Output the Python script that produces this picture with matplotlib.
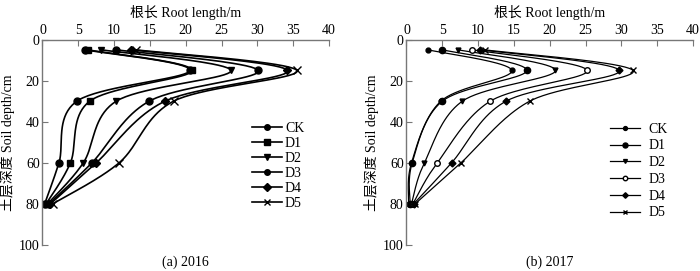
import numpy as np
import matplotlib
matplotlib.use('Agg')
import matplotlib.pyplot as plt

plt.rcParams['font.family'] = ['Liberation Serif', 'Noto Sans CJK SC']
plt.rcParams['font.size'] = 10

depth = [5, 15, 30, 60, 80]
labels = ['CK', 'D1', 'D2', 'D3', 'D4', 'D5']

# root length (m) per treatment at each depth
y2016_ck = [5.9, 20.6, 4.8, 2.3, 0.3]
y2016_d1 = [6.3, 20.9, 6.6, 3.9, 0.5]
y2016_d2 = [8.2, 26.3, 10.3, 5.7, 0.7]
y2016_d3 = [10.3, 30.1, 14.9, 6.9, 0.9]
y2016_d4 = [12.4, 34.2, 17.1, 7.5, 1.1]
y2016_d5 = [13.0, 35.5, 18.3, 10.7, 1.4]

y2017_ck = [3.0, 14.7, 4.8, 0.7, 0.3]
y2017_d1 = [5.0, 16.8, 5.0, 0.8, 0.5]
y2017_d2 = [7.2, 20.8, 7.8, 2.5, 0.7]
y2017_d3 = [9.2, 25.2, 11.7, 4.3, 0.9]
y2017_d4 = [10.3, 29.7, 13.9, 6.3, 1.0]
y2017_d5 = [10.9, 31.6, 17.2, 7.6, 1.2]

data2016 = [y2016_ck, y2016_d1, y2016_d2, y2016_d3, y2016_d4, y2016_d5]
data2017 = [y2017_ck, y2017_d1, y2017_d2, y2017_d3, y2017_d4, y2017_d5]


def smooth(x, y, sx=7.17, sy=2.05, n=40):
    # cardinal (excel-like) bezier smoothing done in pixel space
    P = np.column_stack([np.asarray(x, float) * sx, np.asarray(y, float) * sy])
    out = []
    for i in range(len(P) - 1):
        p0 = P[max(i - 1, 0)]
        p1 = P[i]
        p2 = P[i + 1]
        p3 = P[min(i + 2, len(P) - 1)]
        c1 = p1 + (p2 - p0) / 6
        c2 = p2 - (p3 - p1) / 6
        t = np.linspace(0, 1, n)[:, None]
        seg = (1 - t) ** 3 * p1 + 3 * (1 - t) ** 2 * t * c1 + 3 * (1 - t) * t ** 2 * c2 + t ** 3 * p2
        out.append(seg if i == 0 else seg[1:])
    seg = np.vstack(out)
    return seg[:, 0] / sx, seg[:, 1] / sy


def panel(ax, data, markers, ms, faces, lw, caption, leg_anchor, leg_space, tpad):
    for vals, lab, m, s, fc in zip(data, labels, markers, ms, faces):
        sx, sy = smooth(vals, depth)
        ax.plot(sx, sy, color='black', lw=lw)
        ax.plot(vals, depth, linestyle='none', marker=m, ms=s, color='black',
                mfc=fc, mew=1.0)
        ax.plot([], [], color='black', lw=lw, marker=m, ms=s * 0.8, mfc=fc, label=lab)
    ax.set_xlim(0, 40)
    ax.set_ylim(100, 0)
    ax.set_xticks(range(0, 41, 5))
    ax.set_yticks(range(0, 101, 20))
    ax.xaxis.tick_top()
    ax.xaxis.set_label_position('top')
    ax.set_xlabel('根长 Root length/m', labelpad=5)
    ax.set_ylabel('土层深度 Soil depth/cm', labelpad=3)
    for s in ['right', 'bottom']:
        ax.spines[s].set_visible(False)
    for s in ['left', 'top']:
        ax.spines[s].set_color('#777777')
        ax.spines[s].set_linewidth(1.0)
    ax.tick_params(direction='in', length=4, width=0.8, color='#777777', pad=2)
    ax.text(0.5, -0.083, caption, transform=ax.transAxes, ha='center', va='center')
    leg = ax.legend(loc='upper left', bbox_to_anchor=leg_anchor, frameon=False,
                    handlelength=2.2, handletextpad=tpad, labelspacing=leg_space,
                    borderpad=0, borderaxespad=0, fontsize=10)
    return leg


fig = plt.figure(figsize=(7.0, 2.71), dpi=100)
ax1 = fig.add_axes([0.0607, 0.0959, 0.4093, 0.7583])
ax2 = fig.add_axes([0.5807, 0.0959, 0.4093, 0.7583])

panel(ax1, data2016, ['o', 's', 'v', 'o', 'D', 'x'], [5, 5, 5, 5, 4.5, 5.5],
      ['black'] * 6, 1.2, '(a) 2016', (0.73, 0.60), 0.15, 0.2)
panel(ax2, data2017, ['o', 'o', 'v', 'o', 'D', 'x'], [3.5, 4.5, 3.5, 4, 3.5, 4],
      ['black', 'black', 'black', 'white', 'black', 'black'], 0.9, '(b) 2017',
      (0.71, 0.595), 0.27, 0.6)

fig.savefig('out.png', dpi=100)
